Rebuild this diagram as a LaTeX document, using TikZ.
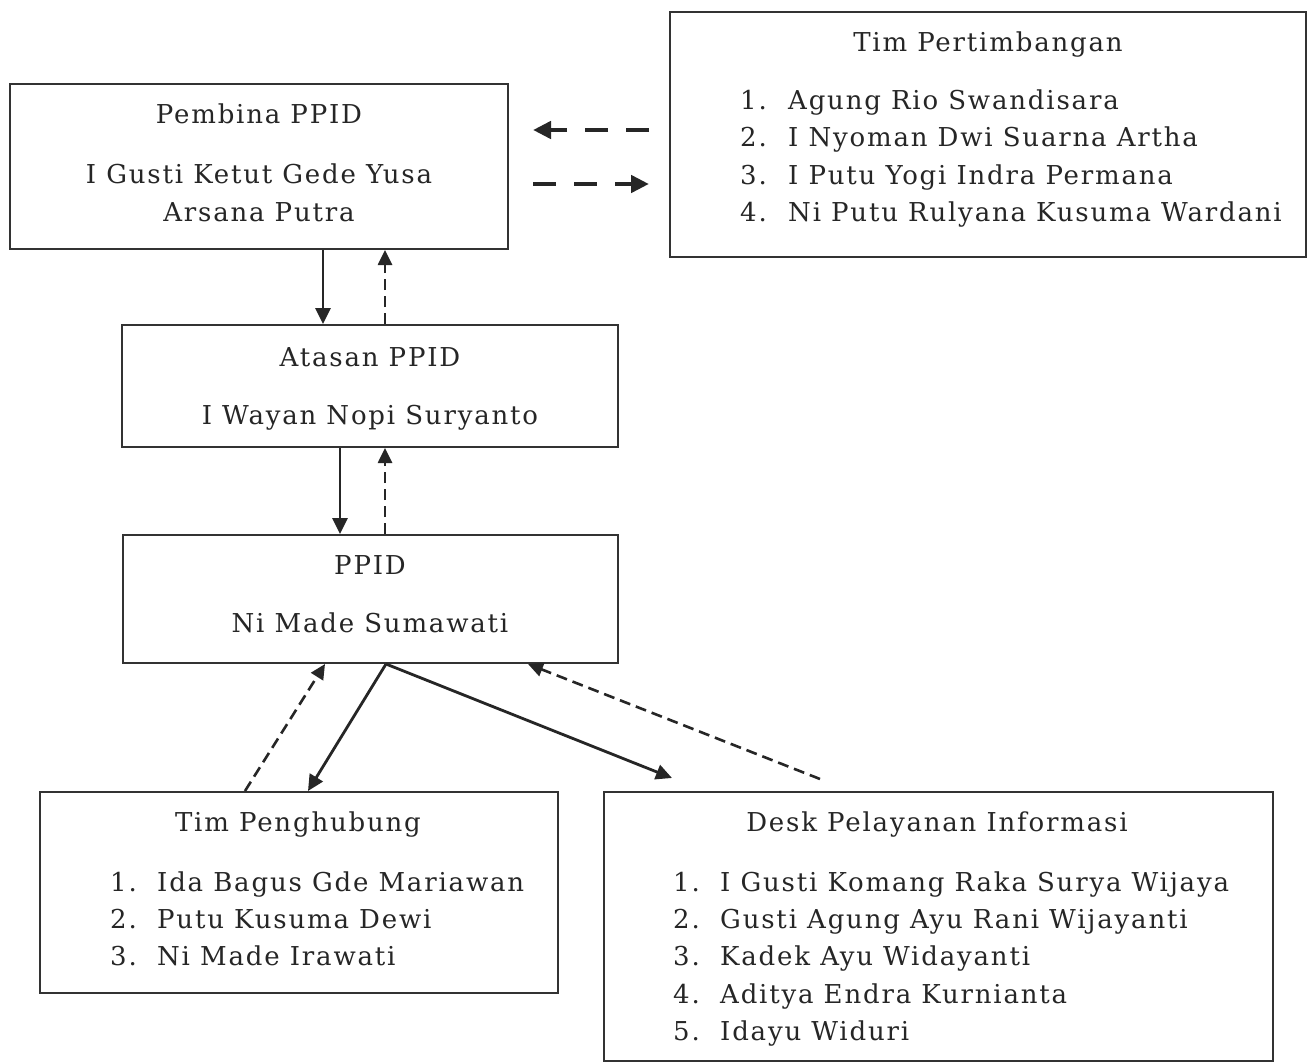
\documentclass[tikz,border=0pt]{standalone}
\usepackage{fontspec}
\setmainfont{DejaVu Serif}[LetterSpace=7]
\usetikzlibrary{arrows.meta}
\begin{document}
\begin{tikzpicture}[x=1pt,y=-1pt,
  box/.style={draw=black!80,line width=2pt,rectangle,inner sep=0pt},
  txt/.style={anchor=base,inner sep=0pt,font=\fontsize{26}{30}\selectfont,text=black!85},
  lft/.style={anchor=base west,inner sep=0pt,font=\fontsize{26}{30}\selectfont,text=black!85},
  solidarr/.style={draw=black!85,line width=2.8pt,-{Triangle[length=16pt,width=15pt]}},
  dasharr/.style={draw=black!85,line width=2.6pt,dash pattern=on 11pt off 6pt,-{Triangle[length=15pt,width=14pt]}},
  dashbig/.style={draw=black!85,line width=4.5pt,dash pattern=on 23pt off 18pt,-{Triangle[length=18pt,width=17pt]}}
]
\useasboundingbox[fill=white] (0,0) rectangle (1307,1062);

% boxes
\node[box,minimum width=498pt,minimum height=165pt] (pemb) at (259,166.5) {};
\node[box,minimum width=636pt,minimum height=245pt] (timp) at (988,134.5) {};
\node[box,minimum width=496pt,minimum height=122pt] (atasan) at (370,386) {};
\node[box,minimum width=495pt,minimum height=128pt] (ppid) at (370.5,599) {};
\node[box,minimum width=518pt,minimum height=201pt] (peng) at (299,892.5) {};
\node[box,minimum width=669pt,minimum height=269pt] (desk) at (938.5,926.5) {};

% Pembina text
\node[txt] (t1) at (259,124) {Pembina PPID};
\node[txt] (t2) at (259,183) {I Gusti Ketut Gede Yusa};
\node[txt] (t3) at (259,221) {Arsana Putra};

% Tim Pertimbangan
\node[txt] (t4) at (988,52) {Tim Pertimbangan};
\node[lft] (n41) at (740,110) {1.};
\node[lft] (n42) at (740,147) {2.};
\node[lft] (n43) at (740,185) {3.};
\node[lft] (n44) at (740,222) {4.};
\node[lft] (m41) at (788,110) {Agung Rio Swandisara};
\node[lft] (m42) at (788,147) {I Nyoman Dwi Suarna Artha};
\node[lft] (m43) at (788,185) {I Putu Yogi Indra Permana};
\node[lft] (m44) at (788,222) {Ni Putu Rulyana Kusuma Wardani};

% Atasan
\node[txt] (t5) at (370,366) {Atasan PPID};
\node[txt] (t6) at (370,424) {I Wayan Nopi Suryanto};

% PPID
\node[txt] (t7) at (370,574) {PPID};
\node[txt] (t8) at (370,632) {Ni Made Sumawati};

% Tim Penghubung
\node[txt] (t9) at (298,831) {Tim Penghubung};
\node[lft] (n91) at (110,891) {1.};
\node[lft] (n92) at (110,928) {2.};
\node[lft] (n93) at (110,965) {3.};
\node[lft] (m91) at (157,891) {Ida Bagus Gde Mariawan};
\node[lft] (m92) at (157,928) {Putu Kusuma Dewi};
\node[lft] (m93) at (157,965) {Ni Made Irawati};

% Desk
\node[txt] (t10) at (937,831) {Desk Pelayanan Informasi};
\node[lft] (n101) at (673,891) {1.};
\node[lft] (n102) at (673,928) {2.};
\node[lft] (n103) at (673,965) {3.};
\node[lft] (n104) at (673,1003) {4.};
\node[lft] (n105) at (673,1040) {5.};
\node[lft] (m101) at (720,891) {I Gusti Komang Raka Surya Wijaya};
\node[lft] (m102) at (720,928) {Gusti Agung Ayu Rani Wijayanti};
\node[lft] (m103) at (720,965) {Kadek Ayu Widayanti};
\node[lft] (m104) at (720,1003) {Aditya Endra Kurnianta};
\node[lft] (m105) at (720,1040) {Idayu Widuri};

% connectors
\draw[dashbig] ([xshift=-20pt,yshift=4.5pt]timp.west) -- ([xshift=24pt,yshift=36.5pt]pemb.east);
\draw[dashbig] ([xshift=24pt,yshift=-17.5pt]pemb.east) -- ([xshift=-20pt,yshift=-49.5pt]timp.west);

\draw[solidarr] ([xshift=64pt]pemb.south) -- ([xshift=-47pt]atasan.north);
\draw[dasharr] ([xshift=15pt]atasan.north) -- ([xshift=126pt]pemb.south);

\draw[solidarr] ([xshift=-30pt]atasan.south) -- ([xshift=-30.5pt]ppid.north);
\draw[dasharr] ([xshift=14.5pt]ppid.north) -- ([xshift=15pt]atasan.south);

\draw[dasharr] ([xshift=-54pt]peng.north) -- ([xshift=-45.5pt]ppid.south);
\draw[solidarr] ([xshift=15.5pt]ppid.south) -- ([xshift=9pt]peng.north);
\coordinate (dsk1) at ([xshift=-266.5pt,yshift=13pt]desk.north);
\coordinate (dsk2) at ([xshift=-118.5pt,yshift=12pt]desk.north);
\draw[solidarr] ([xshift=15.5pt]ppid.south) -- (dsk1);
\draw[dasharr] (dsk2) -- ([xshift=157.5pt]ppid.south);
\end{tikzpicture}
\end{document}
